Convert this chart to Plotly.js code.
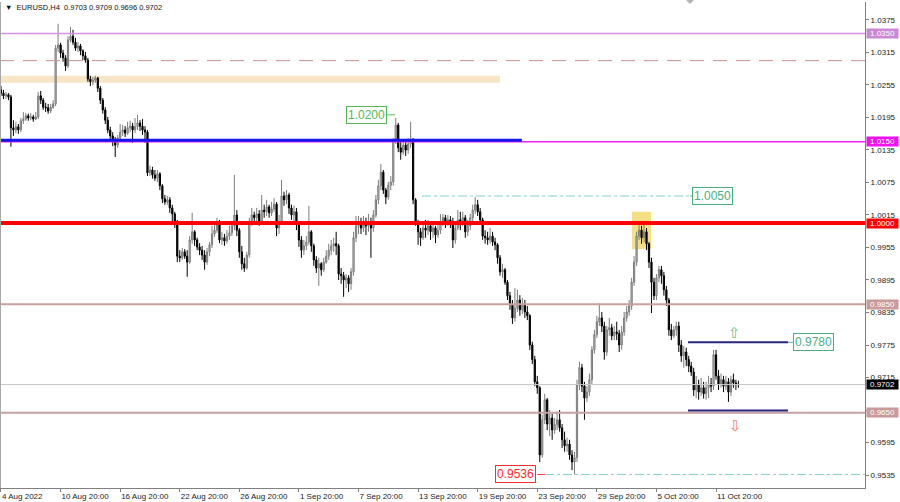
<!DOCTYPE html>
<html><head><meta charset="utf-8">
<script src="https://cdn.plot.ly/plotly-3.0.1.min.js"></script>
<style>html,body{margin:0;padding:0;background:#fff;}#chart{width:900px;height:502px;}</style>
</head><body><div id="chart"></div>
<script>
const symbolName = 'EURUSD,H4';
const open = [
1.0246,1.0240,1.0235,1.0237,1.0233,1.0176,1.0172,1.0178,1.0172,1.0189,
1.0192,1.0198,1.0194,1.0196,1.0192,1.0196,1.0235,1.0227,1.0214,1.0213,
1.0207,1.0214,1.0220,1.0323,1.0329,1.0314,1.0305,1.0290,1.0338,1.0345,
1.0334,1.0323,1.0327,1.0318,1.0309,1.0301,1.0266,1.0261,1.0264,1.0268,
1.0249,1.0227,1.0209,1.0190,1.0172,1.0161,1.0152,1.0144,1.0157,1.0168,
1.0172,1.0166,1.0176,1.0179,1.0172,1.0178,1.0185,1.0179,1.0172,1.0168,
1.0093,1.0098,1.0089,1.0083,1.0091,1.0069,1.0045,1.0039,1.0043,1.0028,
1.0017,1.0002,0.9939,0.9936,0.9947,0.9939,0.9928,0.9969,0.9984,0.9969,
0.9956,0.9950,0.9941,0.9928,0.9947,0.9960,0.9980,0.9987,0.9997,0.9969,
0.9973,0.9967,0.9976,0.9982,0.9995,1.0015,0.9987,0.9947,0.9925,0.9917,
0.9941,1.0002,1.0015,1.0010,1.0017,1.0002,1.0024,1.0021,1.0030,1.0019,
1.0026,1.0035,0.9991,1.0002,1.0050,1.0043,1.0052,1.0028,1.0015,1.0021,
0.9998,0.9969,0.9950,0.9958,0.9965,0.9984,0.9958,0.9932,0.9917,0.9925,
0.9914,0.9928,0.9939,0.9950,0.9958,0.9962,0.9958,0.9906,0.9903,0.9895,
0.9899,0.9888,0.9910,0.9973,0.9995,1.0002,0.9991,0.9998,0.9995,1.0002,
0.9991,1.0015,1.0043,1.0069,1.0094,1.0061,1.0048,1.0070,1.0076,1.0154,
1.0181,1.0139,1.0131,1.0144,1.0135,1.0146,1.0154,1.0043,1.0002,0.9984,
0.9973,0.9991,0.9987,0.9995,0.9984,0.9991,0.9978,0.9987,1.0002,1.0010,
0.9998,1.0006,1.0002,0.9969,0.9991,1.0006,0.9997,1.0010,0.9984,0.9995,
1.0010,1.0024,1.0034,1.0021,1.0006,0.9976,0.9973,0.9969,0.9976,0.9965,
0.9960,0.9936,0.9910,0.9914,0.9891,0.9866,0.9851,0.9825,0.9843,0.9858,
0.9840,0.9849,0.9836,0.9829,0.9775,0.9748,0.9707,0.9696,0.9572,0.9637,
0.9674,0.9629,0.9640,0.9618,0.9628,0.9637,0.9622,0.9600,0.9589,0.9592,
0.9572,0.9559,0.9567,0.9701,0.9733,0.9699,0.9677,0.9688,0.9711,0.9766,
0.9794,0.9818,0.9825,0.9810,0.9762,0.9803,0.9807,0.9792,0.9799,0.9796,
0.9775,0.9799,0.9825,0.9836,0.9847,0.9891,0.9928,0.9976,0.9987,0.9973,
0.9984,0.9962,0.9928,0.9891,0.9866,0.9899,0.9914,0.9903,0.9877,0.9858,
0.9803,0.9792,0.9803,0.9810,0.9775,0.9755,0.9762,0.9748,0.9736,0.9725,
0.9692,0.9703,0.9688,0.9696,0.9685,0.9696,0.9703,0.9699,0.9757,0.9718,
0.9703,0.9711,0.9699,0.9707,0.9688,0.9711,0.9705,0.9703];
const high = [
1.0253,1.0246,1.0242,1.0240,1.0237,1.0190,1.0187,1.0183,1.0194,1.0205,
1.0203,1.0202,1.0203,1.0200,1.0205,1.0242,1.0244,1.0231,1.0222,1.0220,
1.0220,1.0227,1.0329,1.0368,1.0333,1.0320,1.0310,1.0345,1.0362,1.0357,
1.0342,1.0334,1.0331,1.0321,1.0316,1.0305,1.0272,1.0270,1.0272,1.0270,
1.0253,1.0231,1.0214,1.0196,1.0178,1.0168,1.0159,1.0163,1.0183,1.0181,
1.0179,1.0187,1.0189,1.0185,1.0194,1.0200,1.0190,1.0192,1.0179,1.0172,
1.0106,1.0104,1.0098,1.0098,1.0094,1.0072,1.0052,1.0050,1.0048,1.0034,
1.0021,1.0006,0.9950,0.9954,0.9952,0.9950,0.9976,1.0019,0.9987,0.9973,
0.9963,0.9958,0.9950,0.9954,0.9965,0.9995,1.0002,1.0010,1.0006,0.9984,
0.9980,0.9987,0.9995,1.0002,1.0089,1.0024,0.9991,0.9958,0.9936,0.9947,
1.0010,1.0028,1.0021,1.0028,1.0024,1.0052,1.0034,1.0043,1.0034,1.0039,
1.0046,1.0039,1.0015,1.0080,1.0058,1.0061,1.0056,1.0034,1.0032,1.0028,
1.0002,0.9976,0.9969,0.9976,1.0032,0.9987,0.9962,0.9939,0.9936,0.9928,
0.9936,0.9950,0.9962,0.9969,0.9973,0.9984,0.9962,0.9917,0.9910,0.9906,
0.9904,0.9917,0.9984,1.0013,1.0013,1.0010,1.0013,1.0010,1.0017,1.0010,
1.0024,1.0052,1.0080,1.0109,1.0098,1.0065,1.0076,1.0087,1.0157,1.0194,
1.0185,1.0154,1.0154,1.0150,1.0157,1.0187,1.0157,1.0046,1.0006,0.9991,
0.9998,1.0006,1.0006,1.0002,0.9998,0.9995,0.9997,1.0017,1.0017,1.0015,
1.0015,1.0013,1.0010,1.0002,1.0024,1.0021,1.0021,1.0015,1.0006,1.0017,
1.0034,1.0048,1.0043,1.0028,1.0010,0.9987,0.9984,0.9991,0.9984,0.9973,
0.9963,0.9941,0.9925,0.9917,0.9895,0.9873,0.9858,0.9880,0.9877,0.9867,
0.9862,0.9858,0.9847,0.9832,0.9781,0.9755,0.9718,0.9699,0.9646,0.9685,
0.9677,0.9655,0.9648,0.9640,0.9652,0.9655,0.9629,0.9615,0.9604,0.9600,
0.9581,0.9578,0.9711,0.9744,0.9740,0.9707,0.9699,0.9722,0.9773,0.9803,
0.9829,0.9852,0.9836,0.9818,0.9810,0.9825,0.9814,0.9810,0.9818,0.9803,
0.9810,0.9836,0.9847,0.9858,0.9899,0.9939,0.9984,0.9999,0.9995,0.9998,
0.9991,0.9965,0.9936,0.9899,0.9906,0.9921,0.9921,0.9910,0.9884,0.9862,
0.9814,0.9810,0.9818,0.9818,0.9784,0.9773,0.9770,0.9755,0.9744,0.9733,
0.9718,0.9711,0.9714,0.9707,0.9707,0.9718,0.9714,0.9766,0.9766,0.9729,
0.9722,0.9718,0.9718,0.9714,0.9718,0.9722,0.9711,0.9709];
const low = [
1.0235,1.0229,1.0229,1.0227,1.0141,1.0161,1.0166,1.0165,1.0168,1.0183,
1.0189,1.0189,1.0190,1.0187,1.0190,1.0192,1.0220,1.0209,1.0205,1.0202,
1.0203,1.0211,1.0216,1.0316,1.0305,1.0298,1.0281,1.0286,1.0334,1.0329,
1.0318,1.0316,1.0310,1.0301,1.0296,1.0261,1.0253,1.0255,1.0259,1.0242,
1.0220,1.0202,1.0183,1.0166,1.0154,1.0142,1.0122,1.0139,1.0154,1.0161,
1.0159,1.0163,1.0168,1.0148,1.0166,1.0172,1.0170,1.0163,1.0148,1.0087,
1.0087,1.0082,1.0078,1.0076,1.0061,1.0037,1.0034,1.0034,1.0019,1.0002,
0.9991,0.9928,0.9928,0.9932,0.9934,0.9901,0.9925,0.9962,0.9958,0.9950,
0.9941,0.9932,0.9914,0.9923,0.9939,0.9954,0.9975,0.9982,0.9963,0.9960,
0.9958,0.9962,0.9969,0.9976,0.9987,0.9976,0.9936,0.9914,0.9910,0.9914,
0.9936,0.9995,0.9998,1.0002,0.9995,0.9998,1.0010,1.0013,1.0010,1.0013,
1.0021,0.9976,0.9980,0.9998,1.0032,1.0035,1.0017,1.0006,1.0002,0.9987,
0.9956,0.9936,0.9941,0.9950,0.9960,0.9947,0.9921,0.9908,0.9884,0.9903,
0.9910,0.9925,0.9932,0.9941,0.9947,0.9941,0.9895,0.9888,0.9864,0.9880,
0.9873,0.9877,0.9903,0.9965,0.9980,0.9980,0.9984,0.9978,0.9984,0.9936,
0.9984,1.0010,1.0035,1.0061,1.0054,1.0035,1.0043,1.0061,1.0069,1.0146,
1.0131,1.0117,1.0126,1.0124,1.0128,1.0139,1.0035,0.9995,0.9960,0.9958,
0.9969,0.9973,0.9978,0.9969,0.9973,0.9963,0.9973,0.9980,0.9995,0.9991,
0.9995,0.9991,0.9954,0.9962,0.9987,0.9987,0.9995,0.9973,0.9976,0.9987,
1.0002,1.0017,1.0013,0.9998,0.9969,0.9962,0.9960,0.9962,0.9958,0.9950,
0.9925,0.9903,0.9899,0.9886,0.9858,0.9840,0.9814,0.9818,0.9836,0.9829,
0.9832,0.9825,0.9821,0.9766,0.9740,0.9699,0.9685,0.9559,0.9567,0.9629,
0.9618,0.9607,0.9600,0.9611,0.9618,0.9615,0.9585,0.9578,0.9578,0.9563,
0.9544,0.9536,0.9559,0.9692,0.9688,0.9637,0.9670,0.9681,0.9703,0.9759,
0.9788,0.9810,0.9799,0.9748,0.9755,0.9792,0.9784,0.9784,0.9784,0.9762,
0.9766,0.9792,0.9818,0.9829,0.9840,0.9884,0.9921,0.9969,0.9962,0.9965,
0.9950,0.9917,0.9834,0.9858,0.9858,0.9891,0.9888,0.9866,0.9847,0.9792,
0.9784,0.9788,0.9792,0.9762,0.9744,0.9733,0.9736,0.9725,0.9718,0.9681,
0.9677,0.9674,0.9681,0.9676,0.9674,0.9677,0.9688,0.9692,0.9711,0.9692,
0.9696,0.9688,0.9692,0.9670,0.9681,0.9696,0.9692,0.9696];
const close = [
1.0240,1.0235,1.0237,1.0233,1.0176,1.0172,1.0178,1.0172,1.0189,1.0192,
1.0198,1.0194,1.0196,1.0192,1.0196,1.0235,1.0227,1.0214,1.0213,1.0207,
1.0214,1.0220,1.0323,1.0329,1.0314,1.0305,1.0290,1.0338,1.0345,1.0334,
1.0323,1.0327,1.0318,1.0309,1.0301,1.0266,1.0261,1.0264,1.0268,1.0249,
1.0227,1.0209,1.0190,1.0172,1.0161,1.0152,1.0144,1.0157,1.0168,1.0172,
1.0166,1.0176,1.0179,1.0172,1.0178,1.0185,1.0179,1.0172,1.0168,1.0093,
1.0098,1.0089,1.0083,1.0091,1.0069,1.0045,1.0039,1.0043,1.0028,1.0017,
1.0002,0.9939,0.9936,0.9947,0.9939,0.9928,0.9969,0.9984,0.9969,0.9956,
0.9950,0.9941,0.9928,0.9947,0.9960,0.9980,0.9987,0.9997,0.9969,0.9973,
0.9967,0.9976,0.9982,0.9995,1.0015,0.9987,0.9947,0.9925,0.9917,0.9941,
1.0002,1.0015,1.0010,1.0017,1.0002,1.0024,1.0021,1.0030,1.0019,1.0026,
1.0035,0.9991,1.0002,1.0050,1.0043,1.0052,1.0028,1.0015,1.0021,0.9998,
0.9969,0.9950,0.9958,0.9965,0.9984,0.9958,0.9932,0.9917,0.9925,0.9914,
0.9928,0.9939,0.9950,0.9958,0.9962,0.9958,0.9906,0.9903,0.9895,0.9899,
0.9888,0.9910,0.9973,0.9995,1.0002,0.9991,0.9998,0.9995,1.0002,0.9991,
1.0015,1.0043,1.0069,1.0094,1.0061,1.0048,1.0070,1.0076,1.0154,1.0181,
1.0139,1.0131,1.0144,1.0135,1.0146,1.0154,1.0043,1.0002,0.9984,0.9973,
0.9991,0.9987,0.9995,0.9984,0.9991,0.9978,0.9987,1.0002,1.0010,0.9998,
1.0006,1.0002,0.9969,0.9991,1.0006,0.9997,1.0010,0.9984,0.9995,1.0010,
1.0024,1.0034,1.0021,1.0006,0.9976,0.9973,0.9969,0.9976,0.9965,0.9960,
0.9936,0.9910,0.9914,0.9891,0.9866,0.9851,0.9825,0.9843,0.9858,0.9840,
0.9849,0.9836,0.9829,0.9775,0.9748,0.9707,0.9696,0.9572,0.9637,0.9674,
0.9629,0.9640,0.9618,0.9628,0.9637,0.9622,0.9600,0.9589,0.9592,0.9572,
0.9559,0.9567,0.9701,0.9733,0.9699,0.9677,0.9688,0.9711,0.9766,0.9794,
0.9818,0.9825,0.9810,0.9762,0.9803,0.9807,0.9792,0.9799,0.9796,0.9775,
0.9799,0.9825,0.9836,0.9847,0.9891,0.9928,0.9976,0.9987,0.9973,0.9984,
0.9962,0.9928,0.9891,0.9866,0.9899,0.9914,0.9903,0.9877,0.9858,0.9803,
0.9792,0.9803,0.9810,0.9775,0.9755,0.9762,0.9748,0.9736,0.9725,0.9692,
0.9703,0.9688,0.9696,0.9685,0.9696,0.9703,0.9699,0.9757,0.9718,0.9703,
0.9711,0.9699,0.9707,0.9688,0.9711,0.9705,0.9703,0.9702];

const tickIdx = [0,24,48,72,96,120,144,168,192,216,240,264,288];
const tickLabels = ['4 Aug 2022','10 Aug 20:00','16 Aug 20:00','22 Aug 20:00','26 Aug 20:00','1 Sep 20:00','7 Sep 20:00','13 Sep 20:00','19 Sep 20:00','23 Sep 20:00','29 Sep 20:00','5 Oct 20:00','11 Oct 20:00'];
const priceTicks = [1.0375,1.0315,1.0255,1.0195,1.0135,1.0075,1.0015,0.9955,0.9895,0.9835,0.9775,0.9715,0.9655,0.9595,0.9535];

// horizontal levels
const lvlTop = 1.0350, lvlDash = 1.0300, bandHi = 1.0272, bandLo = 1.0259;
const lvlBlue = 1.0153, lvlMagenta = 1.0150, lvlPeak = 1.0200, lvlTarget = 1.0050;
const lvlRed = 1.0000, lvlUpper = 0.9850, lvlBreakUp = 0.9780, lvlCurrent = 0.9702;
const lvlBreakDown = 0.9654, lvlLower = 0.9650, lvlLow = 0.9536;
const boxHi = 1.0021, boxLo = 0.9952;

const F = 'Liberation Sans, Arial, sans-serif';
const barIdx = close.map((_, i) => i);
const last = close.length - 1;

const hline = (y, color, width, dash, x0, x1, xref) => ({type:'line', xref: xref || 'paper', x0: x0 === undefined ? 0 : x0, x1: x1 === undefined ? 1 : x1, yref:'y', y0:y, y1:y, line:{color, width, dash: dash || 'solid'}, layer:'above'});

const shapes = [
  {type:'rect', xref:'x', x0:-0.4, x1:201, yref:'y', y0:bandLo, y1:bandHi, line:{width:0}, fillcolor:'#f7e6c6', layer:'below'},
  {type:'rect', xref:'x', x0:254.1, x1:261.8, yref:'y', y0:boxLo, y1:boxHi, line:{width:0}, fillcolor:'#f4e084', layer:'below'},
  hline(lvlCurrent, '#c8c8c8', 1),
  hline(lvlTop, '#d393e0', 1.5),
  hline(lvlDash, '#c99191', 1, '14px,9px'),
  hline(lvlMagenta, '#ee22ee', 1.5),
  hline(lvlBlue, '#1515ee', 3, 'solid', -0.4, 209.8, 'x'),
  hline(lvlRed, '#ff0000', 4),
  hline(lvlUpper, '#c9a0a0', 2),
  hline(lvlLower, '#c9a0a0', 2),
  hline(lvlTarget, '#86d0d0', 1, 'dashdot', 169.6, 278.3, 'x'),
  hline(lvlLow, '#86d0d0', 1, 'dashdot', 219.1, 348, 'x'),
  hline(lvlLow, '#ff3333', 1, 'solid', 216.0, 219.1, 'x'),
  hline(lvlPeak, '#66bb66', 1, 'solid', 155.5, 158.8, 'x'),
  hline(lvlTarget, '#5cb88a', 1, 'solid', 277.5, 278.6, 'x'),
  hline(lvlBreakUp, '#262680', 2, 'solid', 276.7, 317.0, 'x'),
  hline(lvlBreakUp, '#5cb88a', 1, 'solid', 317.0, 319.2, 'x'),
  hline(lvlBreakDown, '#262680', 2, 'solid', 276.7, 317.0, 'x'),
  {type:'line', xref:'paper', x0:0, x1:0, yref:'paper', y0:0, y1:1, line:{color:'#a8a8a8', width:2}},
  {type:'path', xref:'paper', yref:'paper', path:'M 0.7931 1.004 L 0.8023 1.004 L 0.7977 0.996 Z', fillcolor:'#b4b4b4', line:{width:0}}
];

const axisTag = (v, bg) => ({xref:'paper', x:1, xanchor:'left', xshift:1, yref:'y', y:v, yanchor:'middle',
  text:v.toFixed(4), showarrow:false, bgcolor:bg, font:{family:F, size:8, color:'#ffffff'}, width:31, height:9, borderpad:0});
const priceLabel = (xi, v, color) => ({xref:'x', x:xi, yref:'y', y:v, yanchor:'middle', text:v.toFixed(4), showarrow:false,
  font:{family:F, size:12, color}, bordercolor:color, borderwidth:1, borderpad:1, bgcolor:'#ffffff'});

const header = '\u25BC\u00a0\u00a0' + symbolName + '\u00a0\u00a0' + [open[last], high[last], low[last], close[last]].map(v => v.toFixed(4)).join('\u00a0');

const annotations = [
  {xref:'paper', yref:'paper', x:0, y:1, xanchor:'left', yanchor:'top', xshift:3, yshift:1, text:header, showarrow:false, font:{family:F, size:7.5, color:'#111'}},
  axisTag(lvlTop, '#cc88d8'),
  axisTag(lvlMagenta, '#f010f0'),
  axisTag(lvlRed, '#ff0000'),
  axisTag(lvlUpper, '#c99a9a'),
  axisTag(lvlCurrent, '#000000'),
  axisTag(lvlLower, '#c99a9a'),
  priceLabel(147.4, lvlPeak, '#55b855'),
  priceLabel(286.6, lvlTarget, '#4cae80'),
  priceLabel(327.3, lvlBreakUp, '#4cae80'),
  priceLabel(207.4, lvlLow, '#ff2a2a'),
  {xref:'x', x:295.3, yref:'y', y:0.9797, text:'\u21E7', showarrow:false, font:{family:'DejaVu Sans', size:15, color:'#5fbf8f'}},
  {xref:'x', x:295.7, yref:'y', y:0.9626, text:'\u21E9', showarrow:false, font:{family:'DejaVu Sans', size:15, color:'#f07a50'}}
];

const trace = {
  type:'candlestick', x:barIdx, open, high, low, close,
  increasing:{line:{color:'#7c7c7c', width:1}, fillcolor:'#c4c4c4'},
  decreasing:{line:{color:'#000000', width:1}, fillcolor:'#000000'},
  whiskerwidth:0, hoverinfo:'skip', showlegend:false
};

const layout = {
  width:900, height:502,
  margin:{l:0, r:35, t:2, b:14},
  paper_bgcolor:'#ffffff', plot_bgcolor:'#ffffff',
  showlegend:false,
  xaxis:{type:'linear', range:[-0.4, 348.0], rangeslider:{visible:false}, showgrid:false, zeroline:false,
    tickvals:tickIdx, ticktext:tickLabels, ticks:'outside', ticklen:3, tickcolor:'#808080',
    ticklabelposition:'outside right', tickfont:{family:F, size:8, color:'#222'},
    showline:true, linecolor:'#808080', linewidth:1, fixedrange:true},
  yaxis:{side:'right', range:[0.95110, 1.04082], showgrid:false, zeroline:false,
    tickvals:priceTicks, ticktext:priceTicks.map(v => v.toFixed(4)), ticks:'outside', ticklen:3, tickcolor:'#808080',
    tickfont:{family:F, size:8, color:'#222'}, showline:true, linecolor:'#808080', linewidth:1, fixedrange:true},
  shapes, annotations
};

Plotly.newPlot('chart', [trace], layout, {displayModeBar:false, staticPlot:true});
</script>
</body></html>
